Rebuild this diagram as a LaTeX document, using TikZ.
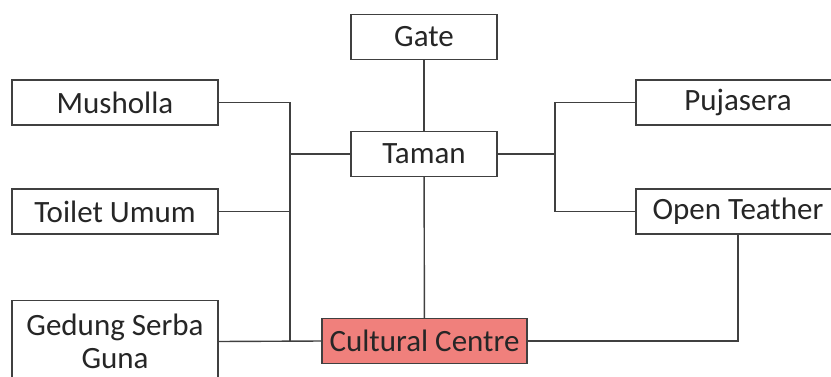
\documentclass[tikz,border=0pt]{standalone}
\usepackage{fontspec}
\setmainfont{Carlito}
\usepackage{tikz}
\definecolor{cultfill}{RGB}{240,128,124}
\definecolor{edge}{RGB}{64,64,64}

\begin{document}
\begin{tikzpicture}[x=1pt,y=-1pt,
  every node/.style={draw=edge, line width=1.4pt, fill=white, text=black!85,
    minimum height=45pt, inner sep=0pt, outer sep=0pt,
    font=\fontsize{31}{33}\selectfont},
  link/.style={draw=edge, line width=1.4pt}]
\clip (0,0) rectangle (831,376);

\node[minimum width=146pt] (gate) at (424,37) {Gate};
\node[minimum width=146pt] (taman) at (424,154) {Taman};
\node[minimum width=205pt, fill=cultfill] (cult) at (424.5,341) {Cultural Centre};

\node[minimum width=206pt] (mush) at (115,102.5) {Musholla};
\node[minimum width=206pt] (toilet) at (115,211.5) {Toilet Umum};
\node[minimum width=206pt, minimum height=82pt, align=center] (gedung) at (115,341.5) {Gedung Serba\\Guna};

\node[minimum width=204pt] (puja) at (738,102.5) {Pujasera};
\node[minimum width=204pt] (open) at (738,211.5) {Open Teather};

\coordinate (wbus) at (290,0);
\coordinate (ebus) at (555,0);

% left side
\draw[link] (mush.east) -| (wbus |- gedung.east);
\draw[link] (toilet.east) -- (toilet.east -| wbus);
\draw[link] (taman.west) -- (taman.west -| wbus);
\draw[link] (gedung.east) -- (cult.west);

% middle
\draw[link] (gate) -- (taman);
\draw[link] (taman) -- (cult);

% right side
\draw[link] (taman.east) -- (taman.east -| ebus);
\draw[link] (puja.west) -| (ebus |- open.west) -- (open.west);
\draw[link] (cult.east) -| (open.south);
\end{tikzpicture}
\end{document}
